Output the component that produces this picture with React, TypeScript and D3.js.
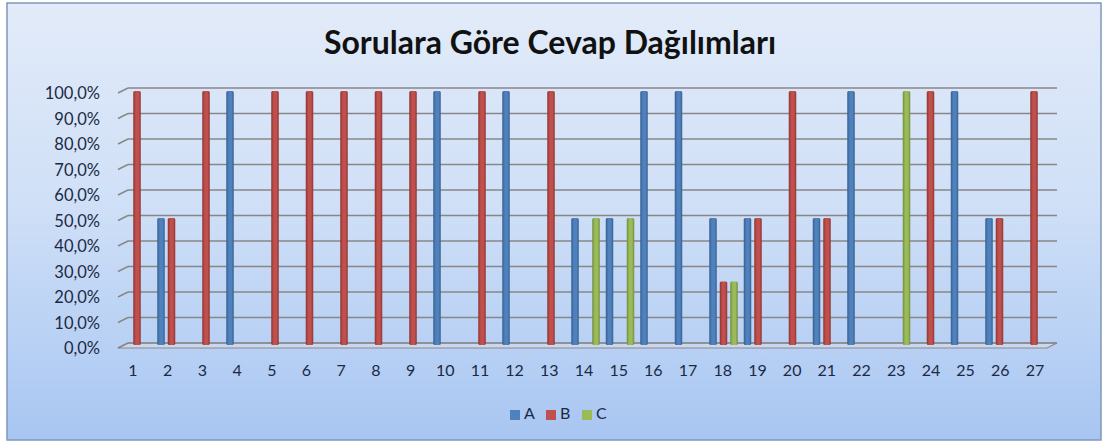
import * as d3 from 'd3'
import React from 'react'

// Data (share of answers per question)
const questions = d3.range(1, 28).map(String)
const seriesNames = ['A', 'B', 'C']
const valuesA = [0, 0.5, 0, 1, 0, 0, 0, 0, 0, 1, 0, 1, 0, 0.5, 0.5, 1, 1, 0.5, 0.5, 0, 0.5, 1, 0, 0, 1, 0.5, 0]
const valuesB = [1, 0.5, 1, 0, 1, 1, 1, 1, 1, 0, 1, 0, 1, 0, 0, 0, 0, 0.25, 0.5, 1, 0.5, 0, 0, 1, 0, 0.5, 1]
const valuesC = [0, 0, 0, 0, 0, 0, 0, 0, 0, 0, 0, 0, 0, 0.5, 0.5, 0, 0, 0.25, 0, 0, 0, 0, 1, 0, 0, 0, 0]
const yTicks = [0, 0.1, 0.2, 0.3, 0.4, 0.5, 0.6, 0.7, 0.8, 0.9, 1]
const colors = ['#4f81bd', '#c0504d', '#9bbb59']
const darkColors = ['#365f8f', '#8f3330', '#718c3c']

const W = 1104
const H = 443
const font = 'Lato, "Noto Sans", sans-serif'

const App = () => {
    const allSeries = [valuesA, valuesB, valuesC]

    // back wall gridlines and the bars sit slightly apart (3D look)
    const yGrid = d3.scaleLinear().domain([0, 1]).range([343, 88])
    const yBar = d3.scaleLinear().domain([0, 1]).range([345, 91])
    const xBar = d3.scalePoint().domain(questions).range([137, 1034])
    const xLabel = d3.scalePoint().domain(questions).range([133, 1035])
    const barW = 7.5
    const offset = 10.5
    const fmt = (v: number) => d3.format('.1f')(v * 100).replace('.', ',') + '%'

    return (
        <div style={{ position: 'absolute', left: 0, top: 0 }}>
            <svg width={W} height={H} style={{ display: 'block' }}>
                <defs>
                    <linearGradient id="bg" x1="0" y1="0" x2="0" y2="1">
                        <stop offset="0%" stopColor="#e2ebf9" />
                        <stop offset="45%" stopColor="#d0e0f7" />
                        <stop offset="100%" stopColor="#a8c6f2" />
                    </linearGradient>
                    {colors.map((c, i) => (
                        <linearGradient key={i} id={'bar' + i} x1="0" y1="0" x2="1" y2="0">
                            <stop offset="0%" stopColor={darkColors[i]} />
                            <stop offset="35%" stopColor={c} />
                            <stop offset="70%" stopColor={c} />
                            <stop offset="100%" stopColor={darkColors[i]} />
                        </linearGradient>
                    ))}
                </defs>

                {/* chart area */}
                <rect x={7} y={3} width={1094} height={437} fill="url(#bg)" stroke="#7f97bb" strokeWidth={1.5} />

                {/* title */}
                <text x={550} y={46} textAnchor="middle" dominantBaseline="middle"
                    fontFamily={font} fontSize={32} fontWeight={700} fill="#111">
                    Sorulara Göre Cevap Dağılımları
                </text>

                {/* floor */}
                <polygon
                    points={`118,${yGrid(0) + 5} 128,${yGrid(0)} 1057,${yGrid(0)} 1047,${yGrid(0) + 5}`}
                    fill="#c9d8f0" stroke="#8a8a8a" strokeWidth={1.2} />

                {/* gridlines with 3D stub on the left */}
                {yTicks.map((t) => (
                    <g key={t}>
                        <line x1={128} x2={1057} y1={yGrid(t)} y2={yGrid(t)} stroke="#878787" strokeWidth={1.5} />
                        <line x1={118} x2={128} y1={yGrid(t) + 5} y2={yGrid(t)} stroke="#878787" strokeWidth={1.5} />
                        <text x={100} y={yGrid(t) + 7} textAnchor="end" dominantBaseline="middle"
                            fontFamily={font} fontSize={16.5} fill="#1b2a44">{fmt(t)}</text>
                    </g>
                ))}

                {/* bars */}
                {allSeries.map((vals, s) => (
                    <g key={s}>
                        {vals.map((v, i) => v > 0 ? (
                            <rect key={i}
                                x={(xBar(questions[i]) as number) + (s - 1) * offset - barW / 2}
                                y={yBar(v)}
                                width={barW}
                                height={yBar(0) - yBar(v)}
                                rx={1.5}
                                fill={`url(#bar${s})`} />
                        ) : null)}
                    </g>
                ))}

                {/* category labels */}
                {questions.map((q) => (
                    <text key={q} x={xLabel(q)} y={372} textAnchor="middle" dominantBaseline="middle"
                        fontFamily={font} fontSize={16} fill="#1b2a44">{q}</text>
                ))}

                {/* legend */}
                {seriesNames.map((n, i) => (
                    <g key={n} transform={`translate(${510 + i * 36}, 415)`}>
                        <rect x={0} y={-5} width={10} height={10} fill={colors[i]} />
                        <text x={14} y={0} dominantBaseline="middle" fontFamily={font} fontSize={16} fill="#1b2a44">{n}</text>
                    </g>
                ))}
            </svg>
        </div>
    )
}

export default App
